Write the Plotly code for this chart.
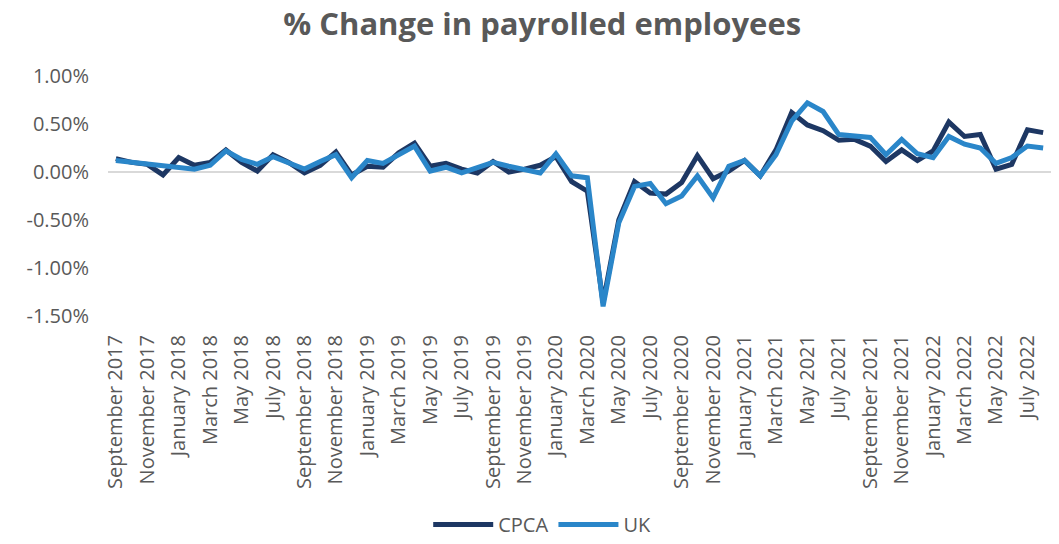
import plotly.graph_objects as go

months = ["January", "February", "March", "April", "May", "June", "July",
          "August", "September", "October", "November", "December"]
categories = []
y, m = 2017, 8
for _ in range(60):
    categories.append(f"{months[m]} {y}")
    m += 1
    if m == 12:
        m = 0
        y += 1

cpca = [0.14, 0.10, 0.08, -0.03, 0.15, 0.07, 0.10, 0.23, 0.10, 0.01,
        0.18, 0.10, -0.01, 0.07, 0.21, -0.03, 0.06, 0.05, 0.20, 0.30,
        0.06, 0.09, 0.03, -0.01, 0.11, 0.00, 0.03, 0.07, 0.16, -0.10,
        -0.20, -1.36, -0.50, -0.10, -0.22, -0.23, -0.11, 0.17, -0.07, 0.01,
        0.12, -0.04, 0.23, 0.62, 0.49, 0.43, 0.33, 0.34, 0.27, 0.11,
        0.23, 0.12, 0.22, 0.52, 0.37, 0.39, 0.03, 0.08, 0.44, 0.41]
uk = [0.12, 0.10, 0.08, 0.06, 0.05, 0.03, 0.07, 0.22, 0.13, 0.08,
      0.16, 0.10, 0.03, 0.11, 0.18, -0.06, 0.12, 0.09, 0.18, 0.27,
      0.01, 0.05, -0.01, 0.05, 0.10, 0.06, 0.03, -0.01, 0.19, -0.04,
      -0.06, -1.40, -0.53, -0.15, -0.12, -0.33, -0.25, -0.04, -0.27, 0.06,
      0.12, -0.04, 0.18, 0.53, 0.72, 0.63, 0.39, 0.38, 0.36, 0.18,
      0.34, 0.19, 0.15, 0.37, 0.29, 0.25, 0.09, 0.15, 0.27, 0.25]

y_ticks = [1.0, 0.5, 0.0, -0.5, -1.0, -1.5]
y_tick_text = ["1.00%", "0.50%", "0.00%", "-0.50%", "-1.00%", "-1.50%"]
x_ticks = categories[::2]

font_family = "Open Sans"
grey = "#595959"

fig = go.Figure()
fig.add_trace(go.Scatter(x=categories, y=cpca, name="CPCA", mode="lines",
                         line=dict(color="#1D3763", width=5)))
fig.add_trace(go.Scatter(x=categories, y=uk, name="UK", mode="lines",
                         line=dict(color="#2A86C9", width=5)))

fig.update_layout(
    width=1059, height=544,
    paper_bgcolor="white", plot_bgcolor="white",
    margin=dict(l=108, r=8, t=76, b=228),
    font=dict(family=font_family, color=grey, size=20),
    title=dict(text="<b>% Change in payrolled employees</b>",
               x=0.512, xref="container", xanchor="center",
               y=0.955, yref="container", yanchor="middle",
               font=dict(size=31, color=grey, family=font_family)),
    showlegend=True,
    legend=dict(orientation="h", xref="container", x=0.512, xanchor="center",
                yref="container", y=0.0, yanchor="bottom",
                font=dict(size=20, color=grey), itemwidth=60,
                tracegroupgap=0),
    xaxis=dict(type="category", categoryorder="array", categoryarray=categories,
               tickmode="array", tickvals=x_ticks, ticktext=x_ticks,
               tickangle=-90, showgrid=False, showline=False, zeroline=False,
               ticks="", ticklabelstandoff=14,
               tickfont=dict(size=20, color=grey),
               range=[-0.5, len(categories) - 0.5]),
    yaxis=dict(range=[-1.5, 1.0], tickmode="array", tickvals=y_ticks,
               ticktext=y_tick_text, showgrid=False, showline=False,
               zeroline=True, zerolinecolor="#D9D9D9", zerolinewidth=2,
               ticks="", ticklabelstandoff=18,
               tickfont=dict(size=20, color=grey)),
)

fig.write_html("out.html", config={"displayModeBar": False},
               post_script="document.body.style.margin='0';document.body.style.overflow='hidden';")
